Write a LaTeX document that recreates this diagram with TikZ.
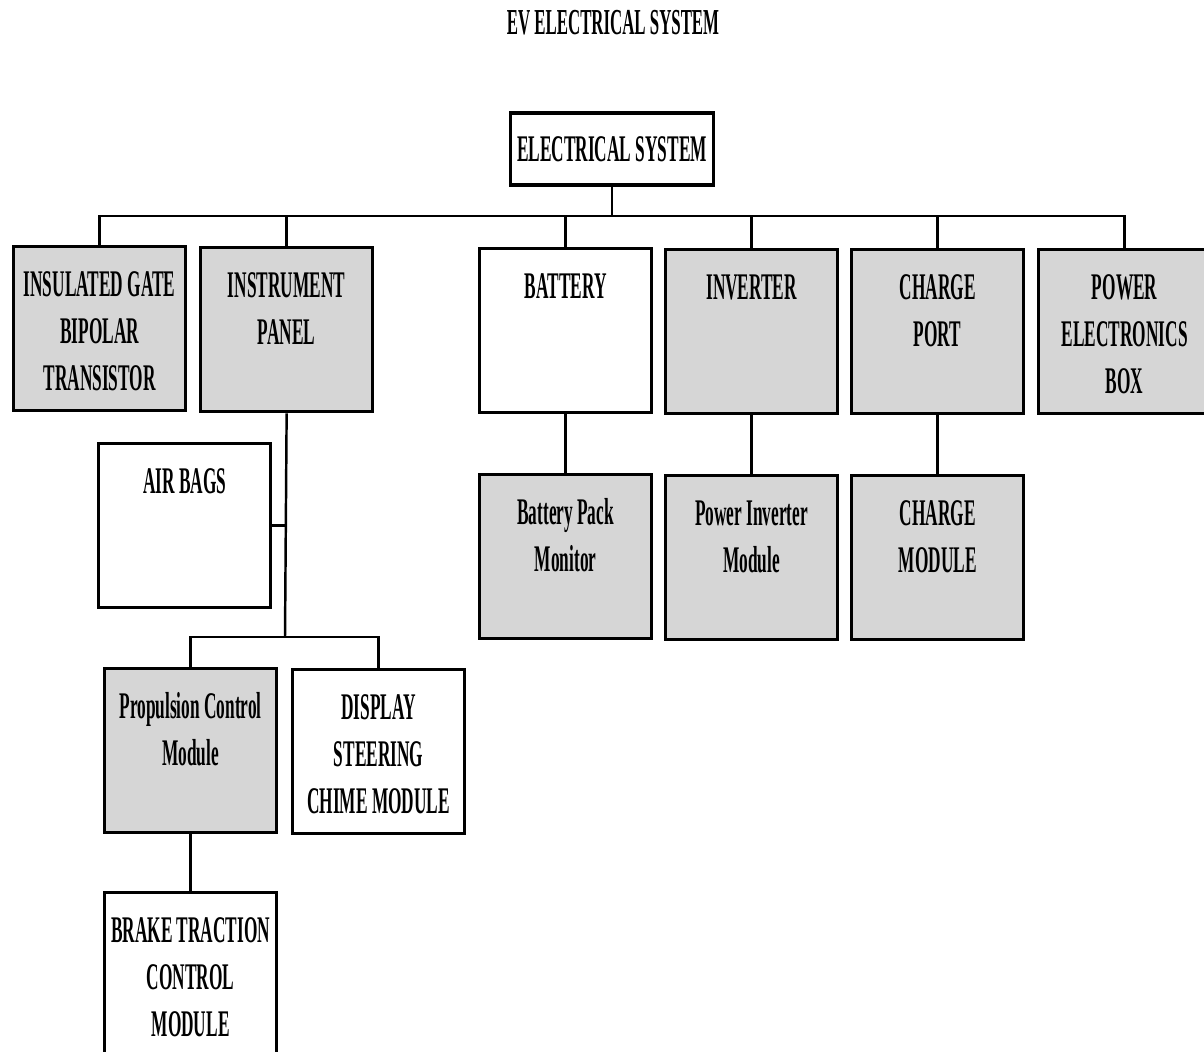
\documentclass[tikz,border=0pt]{standalone}
\usepackage{fontspec}
\setmainfont[FakeStretch=0.46]{Liberation Serif}

\newcommand{\unittext}[1]{\parbox[c][1.64cm][t]{1.72cm}{\centering\rule{0pt}{0.5cm}#1}}

\begin{document}
\begin{tikzpicture}[x=0.01cm, y=-0.01cm,
        unit/.style={draw, line width=0.9pt, anchor=north west, inner sep=0pt,
            font=\bfseries\fontsize{10.7pt}{0.47cm}\selectfont},
        shaded/.style={unit, fill=black!16},
        link/.style={line width=0.7pt}]
        \useasboundingbox (0, 0) rectangle (1204, 1051);

        \node[font=\bfseries\fontsize{10.4pt}{12pt}\selectfont] (title) at (613, 23) {EV ELECTRICAL SYSTEM};
        \node[unit, anchor=center, minimum width=2.03cm, minimum height=0.72cm] (top) at (612, 149) {ELECTRICAL SYSTEM};

        % first row
        \node[shaded] (igbt) at (12, 245) {\unittext{INSULATED GATE\\BIPOLAR\\TRANSISTOR}};
        \node[shaded] (panel) at (199, 246) {\unittext{INSTRUMENT\\PANEL}};
        \node[unit] (battery) at (478, 247) {\unittext{BATTERY}};
        \node[shaded] (inverter) at (664, 248) {\unittext{INVERTER}};
        \node[shaded] (port) at (850, 248) {\unittext{CHARGE\\PORT}};
        \node[shaded] (peb) at (1037, 248) {\unittext{POWER\\ELECTRONICS\\BOX}};

        % second row
        \node[unit] (airbags) at (97, 442) {\unittext{AIR BAGS}};
        \node[shaded] (monitor) at (478, 473) {\unittext{Battery Pack\\Monitor}};
        \node[shaded] (pim) at (664, 474) {\unittext{Power Inverter\\Module}};
        \node[shaded] (chargemod) at (850, 474) {\unittext{CHARGE\\MODULE}};

        % panel branch
        \node[shaded] (propulsion) at (103, 667) {\unittext{Propulsion Control\\Module}};
        \node[unit] (display) at (291, 668) {\unittext{DISPLAY\\STEERING\\CHIME MODULE}};
        \node[unit] (brake) at (103, 891) {\unittext{BRAKE TRACTION\\CONTROL\\MODULE}};

        \coordinate (bus) at (612, 216);
        \coordinate (fork) at (285, 637);

        \draw[link] (top) -- (bus);
        \foreach \n in {igbt, panel, battery, inverter, port, peb}
            \draw[link] (\n.north) |- (bus);
        \draw[link] (battery) -- (monitor);
        \draw[link] (inverter) -- (pim);
        \draw[link] (port) -- (chargemod);
        \draw[link] (panel.south) -- (fork);
        \draw[link] (airbags.east) -- (airbags.east -| fork);
        \draw[link] (propulsion.north) |- (fork) -| (display.north);
        \draw[link] (propulsion) -- (brake);
    \end{tikzpicture}
\end{document}
